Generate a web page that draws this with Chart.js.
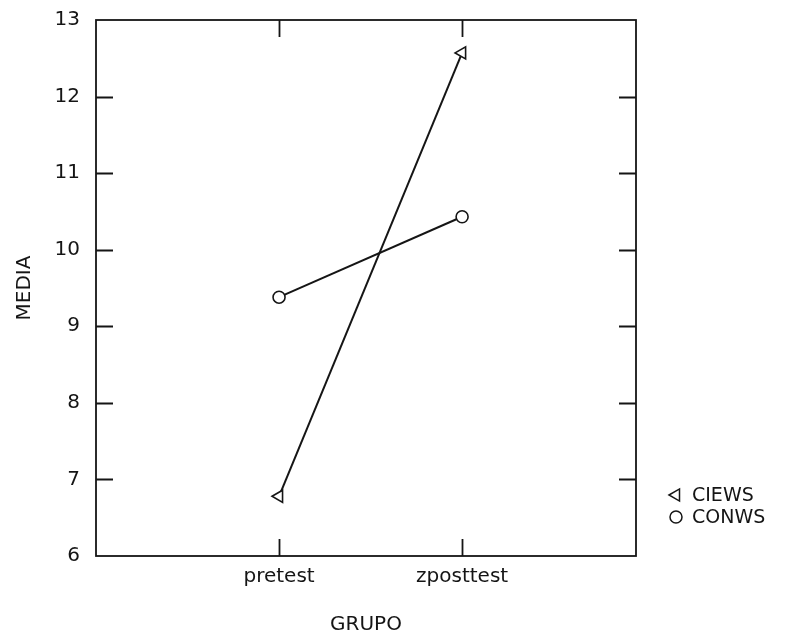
<!DOCTYPE html>
<html>
<head>
<meta charset="utf-8">
<script src="https://cdn.jsdelivr.net/npm/chart.js@4/dist/chart.umd.min.js"></script>
<style>
  html,body{margin:0;padding:0;background:#fff;}
  #wrap{width:800px;height:641px;position:relative;}
</style>
</head>
<body>
<div id="wrap"><canvas id="grafico"></canvas></div>
<script>
// ── datos ──
const CATS   = ['pretest', 'zposttest'];
const CIEWS  = [6.78, 12.57];
const CONWS  = [9.38, 10.43];
const YTICKS = [6, 7, 8, 9, 10, 11, 12, 13];

const INK  = '#151515';
const FONT = "'DejaVu Sans', Arial, sans-serif";

const pts = arr => arr.map((y, i) => ({ x: i + 1, y }));

// marco + ticks hacia dentro en los 4 lados
const marco = {
  id: 'marco',
  afterDatasetsDraw(chart) {
    const { ctx, chartArea: a, scales } = chart;
    const L = 17;
    ctx.save();
    ctx.strokeStyle = INK;
    ctx.lineWidth = 1.8;
    ctx.strokeRect(a.left, a.top, a.right - a.left, a.bottom - a.top);
    ctx.beginPath();
    scales.y.ticks.forEach(t => {
      if (t.value <= scales.y.min || t.value >= scales.y.max) return;
      const py = Math.round(scales.y.getPixelForValue(t.value)) + 0.5;
      ctx.moveTo(a.left, py);  ctx.lineTo(a.left + L, py);
      ctx.moveTo(a.right, py); ctx.lineTo(a.right - L, py);
    });
    scales.x.ticks.forEach(t => {
      const px = Math.round(scales.x.getPixelForValue(t.value)) + 0.5;
      ctx.moveTo(px, a.bottom); ctx.lineTo(px, a.bottom - L);
      ctx.moveTo(px, a.top);    ctx.lineTo(px, a.top + L);
    });
    ctx.stroke();
    ctx.restore();
  }
};

// leyenda a la derecha, abajo
const leyenda = {
  id: 'leyenda',
  afterDraw(chart) {
    const { ctx, chartArea: a } = chart;
    const x0 = a.right + 40, dy = 22;
    let y = a.bottom - 61;
    ctx.save();
    ctx.font = '19px ' + FONT;
    ctx.textBaseline = 'middle';
    chart.data.datasets.forEach(ds => {
      ctx.strokeStyle = INK;
      ctx.fillStyle = '#fff';
      ctx.lineWidth = 1.5;
      Chart.helpers.drawPoint(ctx, {
        pointStyle: ds.pointStyle, rotation: ds.pointRotation || 0,
        radius: ds.pointRadius, borderWidth: 1.5
      }, x0, y);
      ctx.fillStyle = INK;
      ctx.fillText(ds.label, x0 + 16, y + 1);
      y += dy;
    });
    ctx.restore();
  }
};

new Chart(document.getElementById('grafico'), {
  type: 'line',
  data: {
    datasets: [
      { label: 'CIEWS', data: pts(CIEWS), borderColor: INK, borderWidth: 2,
        pointStyle: 'triangle', pointRotation: -90, pointRadius: 7,
        pointBorderColor: INK, pointBackgroundColor: '#fff', pointBorderWidth: 1.6 },
      { label: 'CONWS', data: pts(CONWS), borderColor: INK, borderWidth: 2,
        pointStyle: 'circle', pointRadius: 6,
        pointBorderColor: INK, pointBackgroundColor: '#fff', pointBorderWidth: 1.6 }
    ]
  },
  options: {
    responsive: true, maintainAspectRatio: false, animation: false,
    layout: { padding: { left: 0, top: 20, right: 164, bottom: 0 } },
    plugins: { legend: { display: false }, tooltip: { enabled: false } },
    scales: {
      x: {
        type: 'linear', min: 0, max: 2.95,
        afterBuildTicks: s => { s.ticks = CATS.map((_, i) => ({ value: i + 1 })); },
        afterFit: s => { s.height = 85; s.paddingLeft = 0; s.paddingRight = 0; },
        grid: { display: false, drawTicks: false }, border: { display: false },
        ticks: { color: INK, font: { size: 20, family: FONT }, padding: 9,
                 maxRotation: 0, callback: v => CATS[v - 1] },
        title: { display: true, text: 'GRUPO', color: INK,
                 font: { size: 20, family: FONT }, padding: { top: 0, bottom: 4 } }
      },
      y: {
        min: YTICKS[0], max: YTICKS[YTICKS.length - 1],
        afterBuildTicks: s => { s.ticks = YTICKS.map(v => ({ value: v })); },
        afterFit: s => { s.width = 96; s.paddingTop = 0; s.paddingBottom = 0; },
        grid: { display: false, drawTicks: false }, border: { display: false },
        ticks: { color: INK, font: { size: 20, family: FONT }, padding: 16 },
        title: { display: true, text: 'MEDIA', color: INK,
                 font: { size: 20, family: FONT }, padding: { top: 13, bottom: 0 } }
      }
    }
  },
  plugins: [marco, leyenda]
});
</script>
</body>
</html>
